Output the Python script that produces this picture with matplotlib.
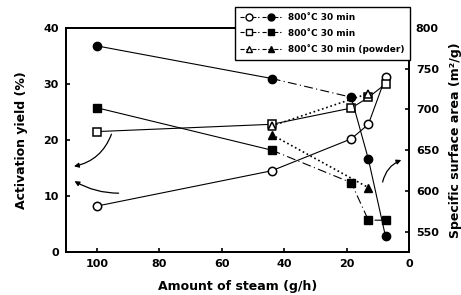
import numpy as np
import matplotlib
matplotlib.use('Agg')
import matplotlib.pyplot as plt
from matplotlib.lines import Line2D
from matplotlib.legend_handler import HandlerTuple

plt.rcParams['font.family'] = ['DejaVu Sans']
plt.rcParams['font.weight'] = 'bold'

# steam amount (g/h)
steam = [100, 44, 18.5, 13, 7.5]
steam_tri = [44, 13]

# activation yield (%) - open symbols, left axis
yield_circle = [8.2, 14.5, 20.2, 22.8, 31.2]
yield_square = [21.5, 22.8, 25.7, 27.6, 30.0]
yield_tri = [22.5, 28.3]

# specific surface area (m2/g) - filled symbols, right axis
area_circle = [778, 738, 715, 639, 544]
area_square = [702, 650, 610, 564, 564]
area_tri = [669, 604]

labels = ['800\u02daC 30 min', '800\u02daC 30 min', '800\u02daC 30 min (powder)']

fig = plt.figure(figsize=(4.61, 2.95), dpi=100)
ax = fig.add_axes([0.143, 0.146, 0.744, 0.759])
ax2 = ax.twinx()

lw = 0.8
ms = 6
# open symbols
ax.plot(steam, yield_circle, '-', color='k', lw=lw, marker='o', ms=ms, mfc='white', mec='k', mew=1.1, zorder=3)
ax.plot(steam, yield_square, '-', color='k', lw=lw, marker='s', ms=ms, mfc='white', mec='k', mew=1.1, zorder=3)
ax.plot(steam_tri, yield_tri, ':', color='k', lw=1.2, marker='^', ms=ms, mfc='white', mec='k', mew=1.1, zorder=3)

# filled symbols
ax2.plot(steam[:2], area_circle[:2], '-', color='k', lw=lw)
ax2.plot(steam[1:3], area_circle[1:3], color='k', lw=lw, dashes=(8, 3, 1, 3))
ax2.plot(steam[2:], area_circle[2:], '-', color='k', lw=lw)
ax2.plot(steam, area_circle, 'o', color='k', ms=ms)
ax2.plot(steam[:2], area_square[:2], '-', color='k', lw=lw)
ax2.plot(steam[1:], area_square[1:], color='k', lw=lw, dashes=(8, 3, 1, 3))
ax2.plot(steam, area_square, 's', color='k', ms=ms)
ax2.plot(steam_tri, area_tri, ':', color='k', lw=1.2, marker='^', ms=ms)

ax.set_xlim(110, 0)
ax.set_ylim(0, 40)
ax2.set_ylim(525, 800)
ax.set_xticks([100, 80, 60, 40, 20, 0])
ax.set_yticks([0, 10, 20, 30, 40])
ax2.set_yticks([550, 600, 650, 700, 750, 800])

for a in (ax, ax2):
    for s in a.spines.values():
        s.set_linewidth(1.3)
ax.tick_params(direction='in', length=3, width=1.2, labelsize=8, pad=5)
ax2.tick_params(direction='in', length=3, width=1.2, labelsize=8, pad=5)

ax.set_xlabel('Amount of steam (g/h)', fontsize=9, fontweight='bold', labelpad=8)
ax.set_ylabel('Activation yield (%)', fontsize=9, fontweight='bold', labelpad=11)
ax2.set_ylabel('Specific surface area (m\u00b2/g)', fontsize=9, fontweight='bold', labelpad=7)

# arrows pointing to the axes
arw = dict(arrowstyle='-|>', color='k', lw=0.9, mutation_scale=7)
ax.annotate('', xy=(108.3, 15.2), xytext=(95.1, 21.5),
            arrowprops=dict(arw, connectionstyle='arc3,rad=-0.3'))
ax.annotate('', xy=(108, 12.9), xytext=(92.2, 10.5),
            arrowprops=dict(arw, connectionstyle='arc3,rad=-0.15'))
ax.annotate('', xy=(1.6, 16.6), xytext=(8.6, 12.0),
            arrowprops=dict(arw, connectionstyle='arc3,rad=-0.3'))

handles = []
for mk in ['o', 's', '^']:
    h_open = Line2D([], [], color='k', lw=lw, ls='--', marker=mk, ms=5, mfc='white', mec='k')
    h_fill = Line2D([], [], color='k', lw=lw, ls='--', marker=mk, ms=5, mfc='k', mec='k')
    handles.append((h_open, h_fill))
leg = fig.legend(handles, labels, loc='upper left', bbox_to_anchor=(0.499, 0.99),
                 handler_map={tuple: HandlerTuple(ndivide=None, pad=0.3)},
                 handlelength=4.5, fontsize=6.5, frameon=True, fancybox=False,
                 edgecolor='k', framealpha=1, borderpad=0.6, labelspacing=0.75)
leg.get_frame().set_linewidth(1.0)
leg.set_zorder(10)

fig.savefig('out.png', dpi=100)
